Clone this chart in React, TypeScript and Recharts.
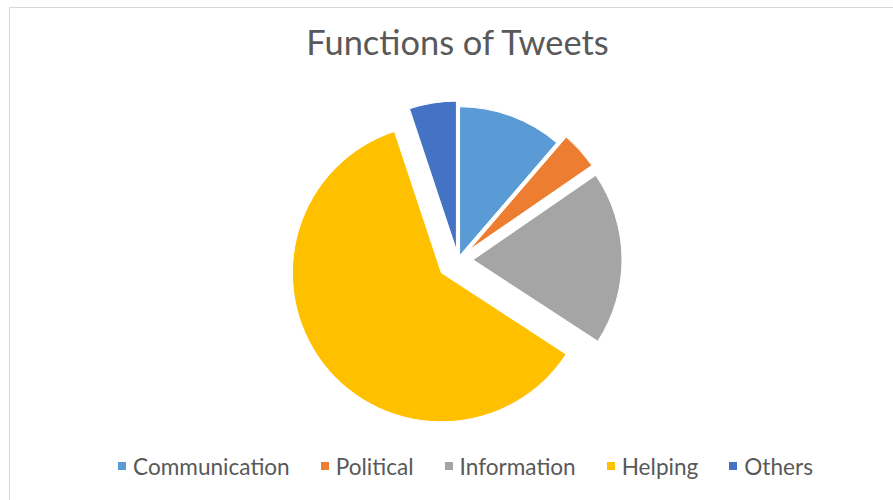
import React from 'react'
import { PieChart, Pie, Cell, Legend } from 'recharts'

const categories = ['Communication', 'Political', 'Information', 'Helping', 'Others']
const shares = [11.3, 4.1, 18.8, 60.7, 5.1]
const colors = ['#5B9BD5', '#ED7D31', '#A5A5A5', '#FFC000', '#4472C4']

const title = 'Functions of Tweets'

// how far each slice is pulled out from the centre, px
const EXPLODE = [4.5, 15, 15, 21, 10]
const CX = 458
const CY = 260
const RADIUS = 149
const FONT = 'Lato, "Open Sans", sans-serif'

const data = categories.map((name, i) => ({ name, value: shares[i] }))
const total = shares.reduce((a, b) => a + b, 0)

function sliceOffset(i: number) {
  const before = shares.slice(0, i).reduce((a, b) => a + b, 0)
  const mid = ((before + shares[i] / 2) / total) * 2 * Math.PI
  return { dx: EXPLODE[i] * Math.sin(mid), dy: -EXPLODE[i] * Math.cos(mid) }
}

function LegendContent() {
  return (
    <div style={{ display: 'flex', justifyContent: 'center', alignItems: 'center', fontFamily: FONT, fontSize: 22.6, lineHeight: '22.6px', color: '#595959' }}>
      {categories.map((name, i) => (
        <div key={name} style={{ display: 'flex', alignItems: 'center', marginRight: i < categories.length - 1 ? 31 : 0 }}>
          <span style={{ width: 8, height: 8, background: colors[i], marginRight: 7, transform: 'translateY(-1px)' }} />
          <span>{name}</span>
        </div>
      ))}
    </div>
  )
}

export default function App() {
  return (
    <div style={{ position: 'absolute', left: 0, top: 0, width: 893, height: 500, overflow: 'hidden', background: '#fff' }}>
      <div style={{ position: 'absolute', left: 9, top: 7, width: 1000, height: 1000, border: '1px solid #d9d9d9' }} />
      <div
        style={{
          position: 'absolute', left: 0, top: 24.5, width: 915, textAlign: 'center',
          fontFamily: FONT, fontSize: 34.4, lineHeight: '34.4px', color: '#595959',
        }}
      >
        {title}
      </div>
      <div style={{ position: 'absolute', left: 0, top: 0 }}>
        <PieChart width={893} height={500} margin={{ top: 0, right: 0, bottom: 0, left: 0 }}>
          {data.map((_, i) => {
            const { dx, dy } = sliceOffset(i)
            return (
              <Pie
                key={categories[i]}
                data={data}
                dataKey="value"
                nameKey="name"
                cx={CX + dx}
                cy={CY + dy}
                outerRadius={RADIUS}
                startAngle={90}
                endAngle={-270}
                isAnimationActive={false}
                legendType="none"
              >
                {data.map((d, j) => (
                  <Cell
                    key={d.name}
                    fill={j === i ? colors[j] : 'transparent'}
                    stroke={j === i ? '#ffffff' : 'none'}
                    strokeWidth={1}
                  />
                ))}
              </Pie>
            )
          })}
          <Legend
            content={<LegendContent />}
            wrapperStyle={{ position: 'absolute', top: 455.5, left: 0, width: 931, bottom: 'auto' }}
          />
        </PieChart>
      </div>
    </div>
  )
}
